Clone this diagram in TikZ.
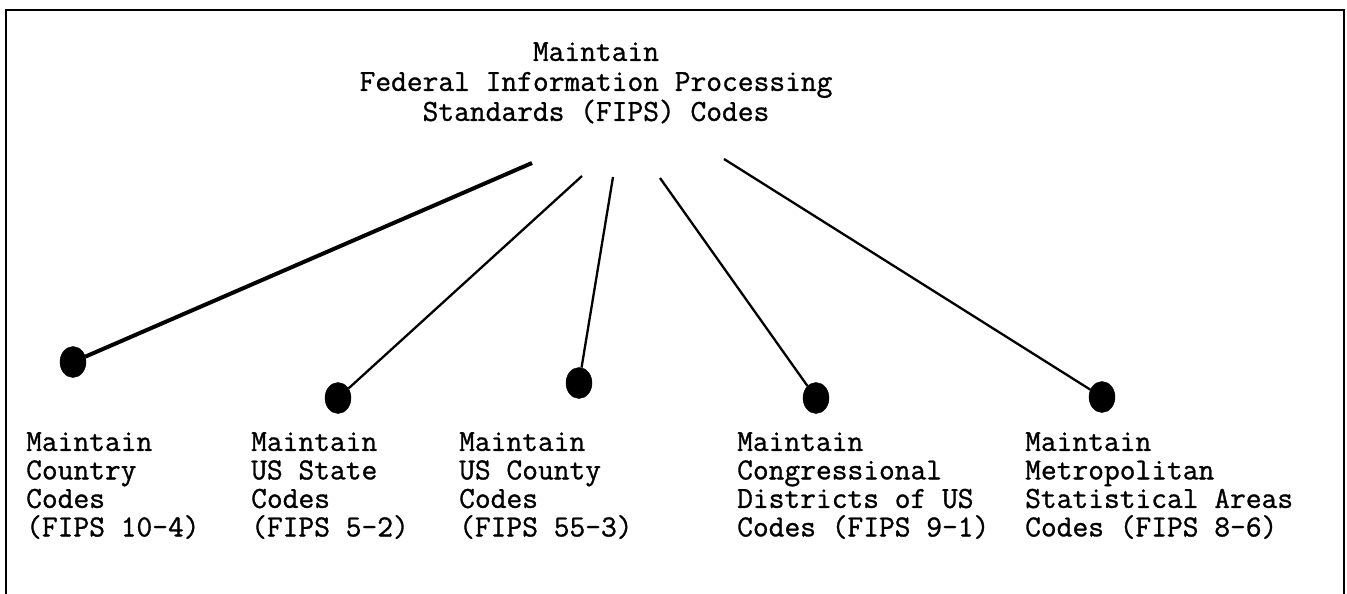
\documentclass[tikz,border=0pt]{standalone}
\usepackage{fontspec}
\setmonofont[FakeBold=1.0]{Latin Modern Mono}
\usetikzlibrary{shapes.geometric}
\begin{document}
\begin{tikzpicture}[x=1pt,y=-1pt,
  heading/.style={font=\ttfamily\fontsize{30.6}{30}\selectfont, align=center, anchor=north, inner sep=0pt},
  leaf/.style={font=\ttfamily\fontsize{30.6}{28.5}\selectfont, align=left, anchor=north west, inner sep=0pt},
  dot/.style={ellipse, fill=black, draw=black, minimum width=26pt, minimum height=31pt, inner sep=0pt},
  link/.style={line width=2.3pt},
  thicklink/.style={line width=4pt}]
  \useasboundingbox (0,0) rectangle (1347,594);
  % open frame (no bottom edge)
  \draw[line width=2.5pt] (6,594) -- (6,10) -- (1344,10) -- (1344,594);

  % root
  \node[heading] (root) at (596,42) {Maintain\\Federal Information Processing\\Standards (FIPS) Codes};

  % branch start points under the root
  \coordinate (s1) at (532,163);
  \coordinate (s2) at (582,176);
  \coordinate (s3) at (613,177);
  \coordinate (s4) at (660,178);
  \coordinate (s5) at (724,159);

  % leaf dots
  \node[dot] (d1) at (73,362) {};
  \node[dot] (d2) at (338,398) {};
  \node[dot] (d3) at (579,383) {};
  \node[dot] (d4) at (816,398) {};
  \node[dot] (d5) at (1102,397) {};

  \draw[thicklink] (s1) -- (d1);
  \draw[link] (s2) -- (d2);
  \draw[link] (s3) -- (d3);
  \draw[link] (s4) -- (d4);
  \draw[link] (s5) -- (d5);

  % leaf labels
  \node[leaf] (l1) at (26,432) {Maintain\\Country\\Codes\\(FIPS 10-4)};
  \node[leaf] (l2) at (251,432) {Maintain\\US State\\Codes\\(FIPS 5-2)};
  \node[leaf] (l3) at (459,432) {Maintain\\US County\\Codes\\(FIPS 55-3)};
  \node[leaf] (l4) at (737,432) {Maintain\\Congressional\\Districts of US\\Codes (FIPS 9-1)};
  \node[leaf] (l5) at (1025,432) {Maintain\\Metropolitan\\Statistical Areas\\Codes (FIPS 8-6)};
\end{tikzpicture}
\end{document}
